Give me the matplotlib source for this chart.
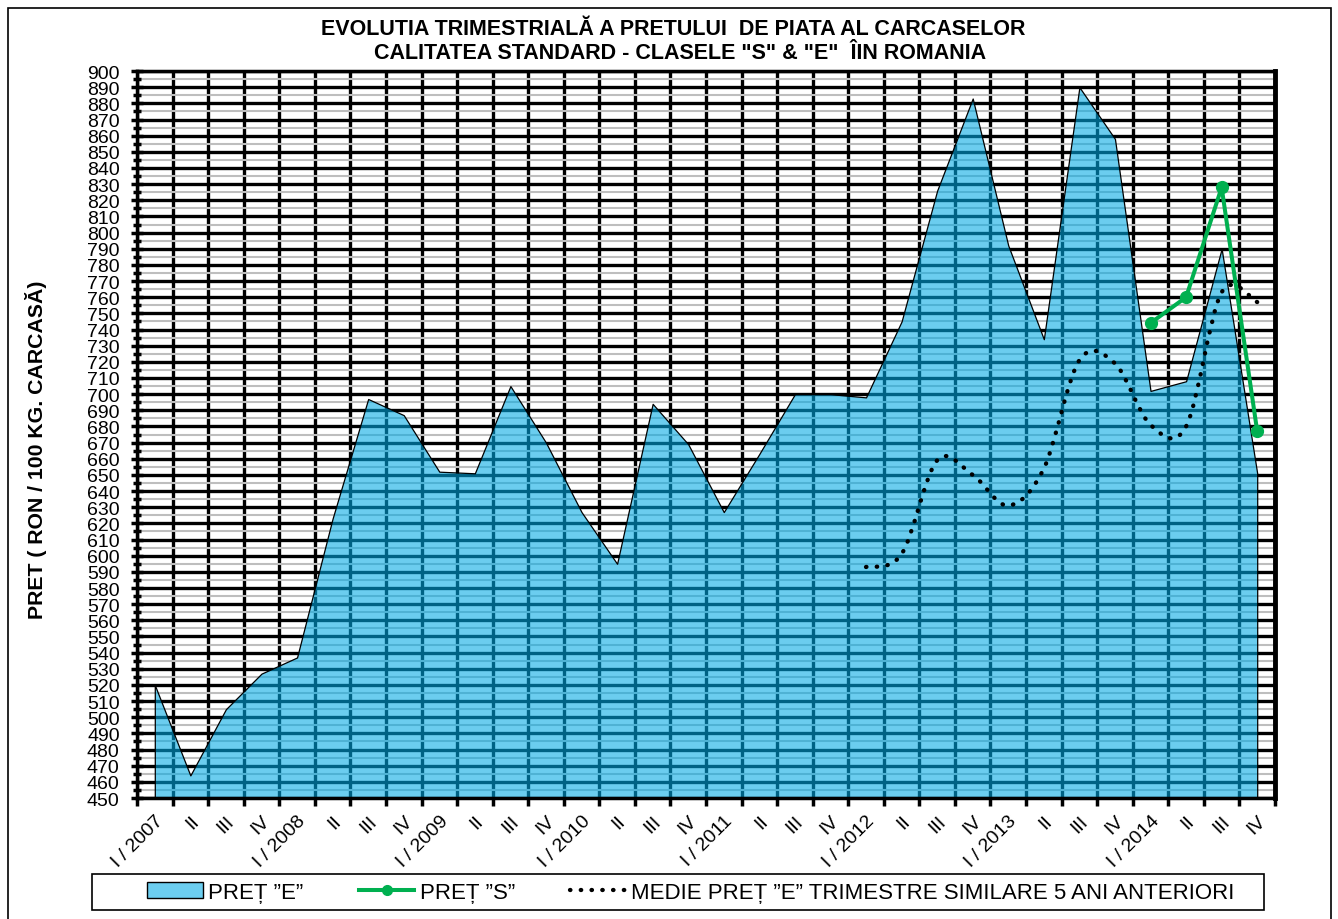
import numpy as np
import matplotlib
matplotlib.use("Agg")
import matplotlib.pyplot as plt
from matplotlib.patches import Patch, Rectangle
from matplotlib.lines import Line2D
from matplotlib.path import Path
from matplotlib.patches import PathPatch
from matplotlib.ticker import MultipleLocator

plt.rcParams["font.family"] = ["Liberation Sans", "DejaVu Sans"]

# quarters I/2007 .. IV/2014
years = [2007, 2008, 2009, 2010, 2011, 2012, 2013, 2014]
quarter_labels = []
for y in years:
    quarter_labels += [f"I / {y}", "II", "III", "IV"]

pret_e = [520, 464, 505, 527, 537, 623, 697, 687,
          652, 651, 705, 670, 627, 595, 694, 669,
          627, 663, 700, 700, 698, 745, 826, 883,
          792, 734, 890, 858, 702, 708, 790, 651]

# PRET "S" only for 2014
s_idx = [28, 29, 30, 31]
pret_s = [744, 760, 828, 677]

# average of similar quarters, previous 5 years (from I/2012)
medie_idx = list(range(20, 32))
medie_e = [593, 601, 659, 650, 631, 654, 721, 719, 681, 680, 763, 757]

fill_rgba = (0 / 255, 170 / 255, 229 / 255, 0.58)
green = "#00B050"
dots = (0, (0.1, 2.4))

fig = plt.figure(figsize=(13.38, 9.2), dpi=100)
ax = fig.add_axes([0.1024, 0.1315, 0.8505, 0.7902])

x = np.arange(len(pret_e))

# area "E"
ax.fill_between(x, 450, pret_e, facecolor=fill_rgba, edgecolor="black",
                linewidth=0.9, zorder=2)

# smoothed dotted average (bezier through the points, like Excel smoothing)
mx = np.array(medie_idx, dtype=float)
my = np.array(medie_e, dtype=float)
verts = [(mx[0], my[0])]
codes = [Path.MOVETO]
n = len(mx)
for i in range(n - 1):
    p0 = np.array([mx[max(i - 1, 0)], my[max(i - 1, 0)]])
    p1 = np.array([mx[i], my[i]])
    p2 = np.array([mx[i + 1], my[i + 1]])
    p3 = np.array([mx[min(i + 2, n - 1)], my[min(i + 2, n - 1)]])
    c1 = p1 + (p2 - p0) / 6.0
    c2 = p2 - (p3 - p1) / 6.0
    verts += [tuple(c1), tuple(c2), tuple(p2)]
    codes += [Path.CURVE4] * 3
curve = PathPatch(Path(verts, codes), facecolor="none", edgecolor="black",
                  linewidth=3.1, linestyle=dots, capstyle="round", zorder=4)
ax.add_patch(curve)

# PRET "S"
ax.plot(s_idx, pret_s, color=green, linewidth=2.9, marker="o",
        markersize=8.5, zorder=5)

# axes
ax.set_xlim(-0.5, len(pret_e) - 0.5)
ax.set_ylim(450, 900)
ax.yaxis.set_major_locator(MultipleLocator(10))
ax.yaxis.set_minor_locator(MultipleLocator(5))
ax.set_xticks(np.arange(-0.5, len(pret_e), 1.0))
ax.set_xticklabels([])
ax.set_xticks(x, minor=True)
ax.set_xticklabels(quarter_labels, minor=True, rotation=45, ha="right",
                   rotation_mode="anchor", fontsize=14)
ax.tick_params(axis="x", which="minor", length=0, pad=10)
ax.tick_params(axis="x", which="major", direction="out", length=6, width=2.5)
ax.tick_params(axis="y", which="major", direction="inout", length=9,
               width=2.5, labelsize=14, pad=8)
ax.tick_params(axis="y", which="minor", direction="inout", length=6, width=2.5)

ax.set_axisbelow(True)
ax.grid(which="major", color="black", linewidth=2.4)
ax.grid(which="minor", axis="y", color="#BEBEBE", linewidth=1.5)
ax.grid(which="minor", axis="x", visible=False)

for side in ["left", "bottom", "top"]:
    ax.spines[side].set_linewidth(2.5)
ax.spines["right"].set_linewidth(3.5)

ax.set_ylabel("PRET ( RON / 100 KG. CARCASĂ)", fontsize=15.3,
              fontweight="bold")
ax.yaxis.set_label_coords(-0.079, 0.48)

fig.text(0.503, 0.968, "EVOLUTIA TRIMESTRIALĂ A PRETULUI  DE PIATA AL CARCASELOR",
         ha="center", va="center", fontsize=15.5, fontweight="bold")
fig.text(0.508, 0.942, "CALITATEA STANDARD - CLASELE \"S\" & \"E\"  ÎIN ROMANIA",
         ha="center", va="center", fontsize=15.5, fontweight="bold")

# legend
handles = [
    Patch(facecolor=(108 / 255, 206 / 255, 240 / 255), edgecolor="black",
          linewidth=1.0),
    Line2D([], [], color=green, linewidth=2.9, marker="o", markersize=7),
    Line2D([], [], color="black", linewidth=3.1, linestyle=dots,
           dash_capstyle="round"),
]
labels = ["PREȚ ”E”", "PREȚ ”S”",
          "MEDIE PREȚ ”E” TRIMESTRE SIMILARE 5 ANI ANTERIORI"]
fig.legend(handles, labels, loc="center", bbox_to_anchor=(0.5164, 0.0293),
           ncol=3, frameon=False, fontsize=16, handlelength=2.5,
           handleheight=0.7, handletextpad=0.23, columnspacing=2.5)
fig.patches.append(Rectangle((92 / 1338, 9 / 920), 1172 / 1338, 36 / 920,
                             transform=fig.transFigure, facecolor="none",
                             edgecolor="black", linewidth=1.2))
fig.patches.append(Rectangle((8 / 1338, -0.05), 1323 / 1338, 1.05 - 9 / 920,
                             transform=fig.transFigure, facecolor="none",
                             edgecolor="black", linewidth=1.2))

fig.savefig("out.png", dpi=100)
